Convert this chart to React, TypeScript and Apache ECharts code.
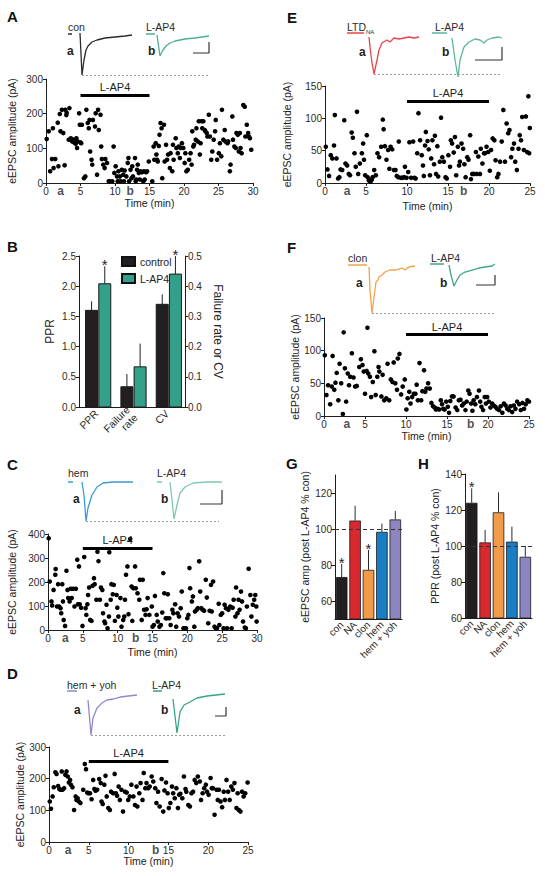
import React, { useEffect, useRef } from 'react';
import * as echarts from 'echarts';

const FONT = 'Liberation Sans, Arial, Helvetica, sans-serif';
const INK = '#1e1e1e';

// ---------- Scatter data: [time (min), eEPSC amplitude (pA)] ----------
const scatterA: number[][] = [
  [0.1,127],[0.4,149],[0.6,34],[0.87,69],[1.0,158],[1.1,43],[1.35,69],[1.7,174],[1.8,48],[2.0,199],[2.1,149],[2.3,211],[2.5,144],[2.7,51],[2.8,211],[2.95,196],[3.0,203],[3.3,125],[3.4,216],[3.6,129],[3.8,120],[4.0,125],[4.1,117],[4.3,113],[4.4,129],[4.5,101],[4.6,120],[4.8,201],[4.9,168],[5.0,117],[5.1,115],[5.2,168],[5.5,14],[5.7,19],[5.85,211],[6.05,173],[6.2,158],[6.3,182],[6.4,91],[6.6,67],[6.7,53],[6.8,182],[7.1,163],[7.2,201],[7.4,24],[7.55,211],[7.65,153],[7.9,197],[8.0,105],[8.1,69],[8.3,53],[8.5,43],[8.6,69],[8.85,58],[9.1,5],[9.2,5],[9.6,5],[9.8,105],[9.9,29],[10.1,48],[10.3,19],[10.4,5],[10.5,34],[10.7,19],[10.8,5],[11.0,38],[11.2,24],[11.3,5],[11.4,36],[11.65,19],[11.85,58],[11.95,72],[12.05,5],[12.25,38],[12.4,14],[12.5,48],[12.6,19],[12.9,72],[13.0,5],[13.1,10],[13.2,38],[13.3,53],[13.45,29],[13.6,10],[13.7,34],[13.9,31],[14.1,5],[14.2,34],[14.3,10],[14.5,31],[14.65,34],[14.9,62],[15.4,5],[15.6,105],[15.7,67],[15.9,115],[16.0,82],[16.1,67],[16.2,62],[16.35,107],[16.45,139],[16.6,173],[16.75,158],[16.85,14],[17.1,168],[17.2,62],[17.4,110],[17.55,67],[17.7,82],[17.95,43],[18.05,86],[18.3,34],[18.4,110],[18.5,67],[18.8,129],[18.9,101],[19.1,86],[19.25,105],[19.4,72],[19.5,101],[19.7,115],[19.9,101],[20.1,58],[20.2,86],[20.35,34],[20.55,38],[20.75,67],[20.95,86],[21.1,53],[21.2,149],[21.35,105],[21.45,110],[21.7,125],[21.8,158],[22.0,120],[22.15,178],[22.3,82],[22.4,115],[22.55,178],[22.65,158],[22.8,178],[23.0,153],[23.1,149],[23.3,144],[23.4,134],[23.6,197],[23.75,134],[23.95,67],[24.1,91],[24.3,125],[24.5,149],[24.6,182],[24.8,67],[25.05,86],[25.2,115],[25.4,77],[25.5,211],[25.7,125],[25.9,153],[26.0,120],[26.3,115],[26.4,120],[26.65,34],[26.75,53],[27.0,192],[27.1,125],[27.3,105],[27.5,101],[27.6,144],[27.8,139],[27.95,91],[28.1,144],[28.2,101],[28.35,86],[28.6,225],[28.8,220],[28.9,134],[29.1,168],[29.3,144],[29.4,134],[29.55,129],[29.75,96]
];

const scatterC: number[][] = [
  [0.1,382],[0.25,202],[0.5,119],[0.6,102],[0.8,167],[1.05,230],[1.1,254],[1.3,98],[1.45,191],[1.6,98],[1.8,91],[1.9,70],[2.05,191],[2.15,119],[2.25,42],[2.45,17],[2.65,247],[2.8,167],[2.9,133],[3.1,119],[3.25,172],[3.4,133],[3.6,172],[3.8,98],[4.0,172],[4.2,293],[4.3,107],[4.45,265],[4.55,107],[4.75,93],[4.95,17],[5.2,304],[5.4,91],[5.5,63],[5.65,107],[5.75,146],[5.9,177],[6.05,42],[6.25,38],[6.4,184],[6.6,216],[6.7,191],[6.95,126],[7.1,326],[7.25,287],[7.45,126],[7.6,177],[7.8,167],[7.9,70],[8.1,35],[8.2,28],[8.4,105],[8.55,7],[8.75,56],[8.8,324],[9.0,126],[9.1,191],[9.3,149],[9.45,188],[9.6,38],[9.85,146],[9.95,93],[10.1,56],[10.4,133],[10.55,14],[10.8,42],[10.95,56],[11.05,126],[11.2,230],[11.4,265],[11.55,66],[11.8,379],[12.0,181],[12.1,38],[12.25,174],[12.5,265],[12.6,174],[12.85,153],[13.1,126],[13.2,209],[13.45,42],[13.6,209],[13.8,84],[14.0,63],[14.15,86],[14.3,133],[14.55,63],[14.9,98],[15.0,14],[15.2,21],[15.35,142],[15.6,63],[15.75,35],[16.0,14],[16.2,21],[16.4,73],[16.55,237],[16.7,153],[16.9,49],[17.05,49],[17.2,149],[17.4,49],[17.6,21],[17.85,84],[18.0,70],[18.25,107],[18.4,14],[18.6,70],[18.8,56],[19.05,91],[19.2,160],[19.45,7],[19.6,7],[19.8,7],[20.0,49],[20.15,63],[20.3,258],[20.4,174],[20.65,119],[20.8,140],[21.0,14],[21.1,77],[21.35,84],[21.5,91],[21.7,286],[21.85,160],[22.0,91],[22.2,84],[22.4,80],[22.65,209],[22.8,135],[23.0,28],[23.2,80],[23.4,188],[23.5,77],[23.7,202],[23.9,14],[24.1,7],[24.25,7],[24.5,109],[24.6,21],[24.8,63],[25.0,70],[25.2,7],[25.35,105],[25.55,91],[25.7,7],[25.9,84],[26.15,98],[26.35,7],[26.5,93],[26.65,126],[26.9,56],[27.0,177],[27.2,70],[27.35,126],[27.5,84],[27.7,160],[27.85,119],[28.0,35],[28.25,10],[28.4,7],[28.55,98],[28.8,255],[29.05,146],[29.2,56],[29.4,105],[29.6,126],[29.75,146],[29.9,98],[29.95,35]
];

const scatterD: number[][] = [
  [0.1,128],[0.25,105],[0.45,144],[0.6,173],[0.8,220],[0.95,215],[1.15,177],[1.3,167],[1.45,165],[1.6,223],[1.7,165],[1.9,170],[2.05,212],[2.2,223],[2.35,207],[2.5,188],[2.65,196],[2.75,181],[2.95,173],[3.15,101],[3.35,144],[3.45,133],[3.6,138],[3.75,128],[3.95,123],[4.3,165],[4.5,246],[4.65,230],[4.8,156],[4.95,154],[5.15,154],[5.35,135],[5.55,196],[5.7,167],[5.85,162],[6.05,165],[6.3,199],[6.5,186],[6.6,128],[6.75,120],[6.95,181],[7.1,209],[7.25,144],[7.45,107],[7.65,101],[7.8,159],[8.05,154],[8.25,215],[8.4,154],[8.55,146],[8.75,175],[8.9,133],[9.1,165],[9.3,96],[9.55,159],[9.75,156],[9.95,133],[10.15,144],[10.35,181],[10.6,144],[10.8,117],[11.0,175],[11.1,112],[11.35,154],[11.5,186],[11.75,133],[11.9,218],[12.1,170],[12.25,186],[12.45,170],[12.65,175],[12.9,207],[13.1,191],[13.35,170],[13.5,123],[13.7,159],[13.9,112],[14.15,199],[14.35,96],[14.5,163],[14.7,188],[14.9,154],[15.05,107],[15.25,123],[15.45,175],[15.6,154],[15.8,138],[16.0,170],[16.2,107],[16.35,149],[16.5,152],[16.75,138],[16.95,207],[17.15,167],[17.25,159],[17.5,117],[17.7,112],[17.9,154],[18.1,159],[18.3,196],[18.5,186],[18.7,207],[18.95,191],[19.1,133],[19.3,154],[19.5,170],[19.7,181],[19.85,159],[20.05,149],[20.3,202],[20.45,170],[20.6,170],[20.8,86],[21.05,165],[21.2,133],[21.35,165],[21.55,128],[21.75,110],[21.95,159],[22.1,133],[22.3,196],[22.5,159],[22.7,133],[22.9,175],[23.1,165],[23.3,186],[23.55,107],[23.7,154],[23.85,101],[24.05,96],[24.25,159],[24.45,144],[24.65,154],[24.95,188]
];

const scatterE: number[][] = [
  [0.1,56],[0.3,21],[0.5,11],[0.7,43],[0.9,38],[1.1,58],[1.2,105],[1.4,38],[1.6,7],[1.75,9],[1.9,21],[2.1,20],[2.35,97],[2.5,30],[2.7,27],[2.9,14],[3.05,12],[3.25,78],[3.4,70],[3.6,46],[3.75,25],[3.9,110],[4.05,14],[4.25,30],[4.5,46],[4.65,61],[4.75,36],[4.9,12],[5.1,74],[5.2,9],[5.35,4],[5.55,2],[5.7,5],[5.8,9],[6.0,20],[6.2,12],[6.4,46],[6.6,40],[6.85,56],[7.05,98],[7.15,83],[7.3,57],[7.5,36],[7.7,51],[7.85,22],[8.0,56],[8.2,52],[8.4,20],[8.6,20],[8.75,11],[8.95,9],[9.0,64],[9.25,8],[9.45,8],[9.65,9],[9.75,25],[9.95,8],[10.15,17],[10.3,63],[10.5,8],[10.75,64],[10.9,8],[11.05,7],[11.25,46],[11.4,108],[11.6,66],[11.8,43],[11.95,27],[12.05,11],[12.2,58],[12.3,79],[12.5,65],[12.65,52],[12.8,12],[12.95,38],[13.1,66],[13.3,29],[13.4,73],[13.55,14],[13.7,57],[13.8,10],[14.0,33],[14.15,101],[14.3,40],[14.5,33],[14.7,9],[14.85,7],[15.05,43],[15.25,25],[15.35,66],[15.5,61],[15.7,47],[15.85,71],[16.0,12],[16.2,56],[16.35,27],[16.45,33],[16.65,61],[16.85,53],[17.0,29],[17.15,9],[17.35,40],[17.5,36],[17.7,74],[17.8,6],[17.95,14],[18.15,14],[18.4,48],[18.5,14],[18.7,41],[18.9,14],[19.0,53],[19.2,30],[19.4,46],[19.5,46],[19.7,56],[19.9,48],[20.1,19],[20.25,51],[20.45,69],[20.65,66],[20.8,35],[21.0,9],[21.15,14],[21.35,33],[21.55,64],[21.75,113],[21.95,33],[22.15,92],[22.35,77],[22.5,82],[22.7,40],[22.85,53],[23.05,61],[23.2,33],[23.4,20],[23.6,53],[23.75,74],[23.9,66],[24.05,102],[24.25,51],[24.5,103],[24.65,48],[24.8,134],[24.9,46],[24.98,85]
];

const scatterF: number[][] = [
  [0.1,93],[0.3,32],[0.5,47],[0.75,18],[0.95,45],[1.05,92],[1.25,40],[1.4,51],[1.55,66],[1.75,24],[1.9,80],[2.1,50],[2.3,3],[2.4,128],[2.55,73],[2.7,22],[2.9,65],[3.05,47],[3.2,60],[3.4,96],[3.6,59],[3.8,45],[4.0,46],[4.3,75],[4.5,87],[4.7,78],[4.85,68],[5.0,34],[5.2,69],[5.3,135],[5.4,65],[5.6,60],[5.75,29],[5.95,52],[6.15,99],[6.3,32],[6.5,60],[6.65,75],[6.75,68],[7.0,30],[7.15,63],[7.35,24],[7.6,27],[7.75,80],[7.95,24],[8.15,56],[8.35,52],[8.5,82],[8.7,50],[8.9,40],[9.0,88],[9.2,95],[9.4,33],[9.6,45],[9.85,56],[10.05,10],[10.2,27],[10.4,37],[10.55,19],[10.75,29],[10.95,34],[11.15,34],[11.3,48],[11.45,24],[11.65,81],[11.85,24],[12.0,38],[12.2,70],[12.35,37],[12.5,42],[12.7,50],[12.9,42],[13.1,20],[13.3,15],[13.5,13],[13.65,10],[13.85,11],[14.05,10],[14.25,24],[14.4,18],[14.55,11],[14.7,10],[14.9,22],[15.1,14],[15.25,5],[15.4,23],[15.6,30],[15.8,30],[16.05,13],[16.25,9],[16.45,24],[16.65,25],[16.85,16],[17.05,19],[17.25,9],[17.4,22],[17.6,39],[17.75,34],[17.95,19],[18.1,8],[18.25,24],[18.45,18],[18.65,29],[18.9,39],[19.05,22],[19.2,14],[19.4,9],[19.6,29],[19.75,19],[19.9,29],[20.1,22],[20.3,13],[20.5,19],[20.7,16],[20.9,14],[21.1,11],[21.35,9],[21.55,15],[21.75,5],[21.95,19],[22.15,16],[22.35,11],[22.55,9],[22.75,15],[22.95,6],[23.15,16],[23.35,11],[23.55,22],[23.8,18],[24.0,9],[24.2,20],[24.4,11],[24.6,18],[24.8,24],[25.0,22]
];

// ---------- Example traces: [time (arb.), current (arb., negative = inward)] ----------
const trA_aBase = [[8,-9],[12,-9]];
const trA_a = [[20,-8],[22,-50],[24,-35],[26,-25],[28,-21],[32,-17],[37,-15],[45,-13],[55,-12],[65,-11],[72,-10]];
const trA_bBase = [[86,-9],[95,-9]];
const trA_b = [[97,-10],[100,-31],[103,-25],[106,-21],[110,-18],[115,-16],[125,-14],[135,-13],[149,-11]];
const trA_scale = [[133,-28],[149,-28],[149,-17]];

const trC_aBase = [[8,-4],[13,-4]];
const trC_a = [[22,-4],[24,-17],[25,-30],[26,-43],[28,-30],[32,-17],[37,-9],[43,-5],[53,-4],[73,-4]];
const trC_bBase = [[97,-4],[102,-4]];
const trC_b = [[110,-4],[112,-22],[114,-41],[117,-27],[120,-15],[125,-9],[133,-5],[147,-4],[162,-4]];
const trC_scale = [[140,-26],[162,-26],[162,-12]];

const trD_aBase = [[7,-1],[17,-1]];
const trD_a = [[28,-10],[31,-45],[33,-28],[37,-18],[42,-13],[47,-10],[53,-9],[60,-7],[77,-5]];
const trD_bBase = [[93,-1],[102,-1]];
const trD_b = [[113,-9],[117,-43],[120,-22],[124,-15],[130,-12],[137,-8],[147,-6],[165,-4]];
const trD_scale = [[155,-26],[166,-26],[166,-17]];

const trE_aBase = [[7,-3],[24,-3]];
const trE_a = [[29,-7],[30,-17],[32,-33],[34,-44],[37,-30],[39,-20],[42,-13],[47,-10],[50,-12],[54,-8],[59,-9],[64,-8],[69,-7],[74,-8],[79,-7]];
const trE_bBase = [[92,-3],[107,-3]];
const trE_b = [[112,-8],[115,-30],[118,-47],[120,-30],[124,-17],[129,-12],[135,-9],[140,-10],[144,-13],[147,-10],[152,-8],[159,-7],[162,-8]];
const trE_scale = [[135,-30],[162,-30],[162,-17]];

const trF_aBase = [[8,-5],[27,-5]];
const trF_a = [[29,-7],[30,-30],[32,-53],[34,-37],[36,-22],[38,-20],[39,-17],[42,-15],[45,-12],[50,-10],[55,-10],[62,-8],[65,-10],[69,-7],[75,-6]];
const trF_bBase = [[90,-4],[104,-4]];
const trF_b = [[109,-5],[111,-15],[114,-26],[117,-20],[120,-15],[125,-12],[132,-10],[139,-8],[145,-7],[152,-6],[155,-4]];
const trF_scale = [[136,-25],[155,-25],[155,-15]];

// ---------- Panel B ----------
const bCategories = ['PPR', 'Failure\nrate', 'CV'];
const bControlMean = [1.6, 0.067, 0.34];
const bControlErr = [1.75, 0.109, 0.373];
const bLap4Mean = [2.04, 0.133, 0.44];
const bLap4Err = [2.33, 0.21, 0.5];
const bLap4Sig = [1, 0, 1];

// ---------- Panels G, H ----------
const ghCategories = ['con', 'NA', 'clon', 'hem', 'hem + yoh'];
const ghColors = ['#231f20', '#d8292e', '#f19a49', '#1a7ec4', '#8c85c0'];
const gMean = [73.3, 104.7, 77.3, 98.4, 105.3];
const gErr = [80.6, 112.9, 88.4, 103, 110];
const gSig = [1, 0, 1, 0, 0];
const hMean = [124, 102, 118.7, 102.4, 94];
const hErr = [132, 108.9, 129.8, 110.7, 100];
const hSig = [1, 0, 0, 0, 0];

const TEAL = '#35a089';

function buildOption() {
  const grid: any[] = [];
  const xAxis: any[] = [];
  const yAxis: any[] = [];
  const series: any[] = [];
  const graphic: any[] = [];

  const axisLine = { show: true, lineStyle: { color: INK, width: 1 } };
  const axisTick = { show: true, length: 3, lineStyle: { color: INK, width: 1 } };
  const axisLabel = { fontSize: 10, color: '#2a2a2a', margin: 3, fontFamily: FONT };
  const nameStyle = { fontSize: 10.5, color: '#222', fontFamily: FONT };

  const addGrid = (left: number, top: number, width: number, height: number) => {
    grid.push({ left, top, width, height, containLabel: false });
    return grid.length - 1;
  };

  const text = (t: string, left: number, top: number, size: number, bold = false, fill = '#2a2a2a') => {
    graphic.push({
      type: 'text', left, top, silent: true,
      style: { text: t, fontSize: size, fontWeight: bold ? 'bold' : 'normal', fontFamily: FONT, fill },
    });
  };

  const scatterPanel = (c: any) => {
    const g = addGrid(c.left, c.top, c.width, c.height);
    xAxis.push({
      gridIndex: g, type: 'value', min: 0, max: c.xMax, interval: 5,
      name: 'Time (min)', nameLocation: 'middle', nameGap: c.xGap, nameTextStyle: nameStyle,
      axisLine, axisTick, axisLabel, splitLine: { show: false },
    });
    const xi = xAxis.length - 1;
    yAxis.push({
      gridIndex: g, type: 'value', min: 0, max: c.yMax, interval: c.yInt,
      name: 'eEPSC amplitude (pA)', nameLocation: 'middle', nameGap: c.yGap, nameTextStyle: nameStyle,
      axisLine, axisTick, axisLabel, splitLine: { show: false },
    });
    const yi = yAxis.length - 1;
    series.push({
      type: 'scatter', xAxisIndex: xi, yAxisIndex: yi, data: c.data, symbolSize: 4.6,
      itemStyle: { color: '#000', opacity: 1 }, silent: true,
      markLine: {
        silent: true, symbol: ['none', 'none'], animation: false,
        lineStyle: { color: '#000', width: 3, type: 'solid' },
        label: { show: true, position: 'insideMiddleTop', formatter: 'L-AP4', fontSize: 11, color: '#222', fontFamily: FONT, distance: 2 },
        data: [[{ coord: [c.bar[0], c.barY] }, { coord: [c.bar[1], c.barY] }]],
      },
    });
    series.push({
      type: 'scatter', xAxisIndex: xi, yAxisIndex: yi, symbolSize: 0, clip: false, silent: true,
      data: [[c.marks[0], 0, 'a'], [c.marks[1], 0, 'b']],
      label: {
        show: true, position: 'bottom', distance: 2, formatter: (p: any) => p.value[2],
        fontWeight: 'bold', fontSize: 12, color: '#222', fontFamily: FONT,
      },
    });
  };

  const tracePanel = (c: any) => {
    const g = addGrid(c.left, c.top, c.width, c.height);
    xAxis.push({ gridIndex: g, type: 'value', min: 0, max: c.width, show: false, splitLine: { show: false } });
    const xi = xAxis.length - 1;
    yAxis.push({ gridIndex: g, type: 'value', min: -c.height, max: 0, show: false, splitLine: { show: false } });
    const yi = yAxis.length - 1;
    const line = (data: number[][], color: string, w = 1.3, extra: any = {}) =>
      series.push({
        type: 'line', xAxisIndex: xi, yAxisIndex: yi, data, symbol: 'none', silent: true,
        lineStyle: { color, width: w }, clip: false, ...extra,
      });
    line(c.aBase, c.aColor);
    line(c.a, c.aColor);
    line(c.bBase, c.bColor);
    line(c.b, c.bColor);
    line(c.scale, '#333', 1.2, {
      markLine: {
        silent: true, symbol: ['none', 'none'], animation: false, label: { show: false },
        lineStyle: { color: '#9a9a9a', width: 1, type: [2, 2] },
        data: [[{ coord: [c.dot[0], c.dotY] }, { coord: [c.dot[1], c.dotY] }]],
      },
    });
  };

  // ---------------- Panel A ----------------
  text('A', 7, 9, 15, true, '#111');
  tracePanel({
    left: 60, top: 25, width: 160, height: 60,
    aBase: trA_aBase, a: trA_a, bBase: trA_bBase, b: trA_b, scale: trA_scale,
    aColor: '#2b2b2b', bColor: '#4fae95', dot: [22, 150], dotY: -50,
  });
  text('con', 68, 21, 10.5);
  text('L-AP4', 146, 21, 10.5);
  text('a', 67, 45, 12, true, '#222');
  text('b', 148, 45, 12, true, '#222');
  scatterPanel({
    left: 46, top: 79, width: 207, height: 104, xMax: 30, yMax: 300, yInt: 100,
    data: scatterA, barY: 254, bar: [5, 15], marks: [2.1, 12.2], xGap: 14, yGap: 29,
  });

  // ---------------- Panel B ----------------
  text('B', 7, 239, 15, true, '#111');
  const gb = addGrid(79, 256, 106, 151);
  xAxis.push({
    gridIndex: gb, type: 'category', data: bCategories,
    axisLine, axisTick: { show: false },
    axisLabel: { fontSize: 10.5, color: '#2a2a2a', fontFamily: FONT, rotate: 45, interval: 0, margin: 5 },
  });
  const bx = xAxis.length - 1;
  yAxis.push({
    gridIndex: gb, type: 'value', min: 0, max: 2.5, interval: 0.5, position: 'left',
    name: 'PPR', nameLocation: 'middle', nameGap: 23, nameTextStyle: { ...nameStyle, fontSize: 12 },
    axisLine, axisTick, axisLabel: { ...axisLabel, formatter: (v: number) => v.toFixed(1) }, splitLine: { show: false },
  });
  const byL = yAxis.length - 1;
  yAxis.push({
    gridIndex: gb, type: 'value', min: 0, max: 0.5, interval: 0.1, position: 'right',
    name: 'Failure rate or CV', nameLocation: 'middle', nameGap: 27, nameRotate: -90,
    nameTextStyle: { ...nameStyle, fontSize: 12 },
    axisLine, axisTick, axisLabel: { ...axisLabel, formatter: (v: number) => v.toFixed(1) }, splitLine: { show: false },
  });
  const byR = yAxis.length - 1;
  const bRender = (params: any, api: any) => {
    const i = api.value(0);
    const base = api.coord([i, 0]);
    const bw = 12;
    const gap = 1.2;
    const parts: any[] = [];
    const items = [
      { mean: api.value(1), err: api.value(2), sig: 0, color: '#231f20', side: -1 },
      { mean: api.value(3), err: api.value(4), sig: api.value(5), color: TEAL, side: 1 },
    ];
    items.forEach((it) => {
      const x = base[0] + 1.5 + it.side * (bw + gap) / 2;
      const yTop = api.coord([i, it.mean])[1];
      const yErr = api.coord([i, it.err])[1];
      parts.push({ type: 'line', shape: { x1: x, y1: yTop, x2: x, y2: yErr }, style: { stroke: '#222', lineWidth: 1 } });
      parts.push({ type: 'rect', shape: { x: x - bw / 2, y: yTop, width: bw, height: base[1] - yTop }, style: { fill: it.color, stroke: '#1a1a1a', lineWidth: 1 } });
      if (it.sig) {
        parts.push({ type: 'text', x, y: yErr + 6, style: { text: '*', textAlign: 'center', textVerticalAlign: 'bottom', fontSize: 15, fontFamily: FONT, fill: '#222' } });
      }
    });
    return { type: 'group', children: parts };
  };
  const bRows = bCategories.map((_, i) => [i, bControlMean[i], bControlErr[i], bLap4Mean[i], bLap4Err[i], bLap4Sig[i]]);
  series.push({ type: 'custom', xAxisIndex: bx, yAxisIndex: byL, renderItem: bRender, data: [bRows[0]], clip: false, silent: true });
  series.push({ type: 'custom', xAxisIndex: bx, yAxisIndex: byR, renderItem: bRender, data: [bRows[1], bRows[2]], clip: false, silent: true });
  series.push({ type: 'bar', name: 'control', xAxisIndex: bx, yAxisIndex: byL, data: [], itemStyle: { color: '#231f20', borderColor: '#111', borderWidth: 1 } });
  series.push({ type: 'bar', name: 'L-AP4', xAxisIndex: bx, yAxisIndex: byL, data: [], itemStyle: { color: TEAL, borderColor: '#111', borderWidth: 1 } });

  // ---------------- Panel C ----------------
  text('C', 7, 457, 15, true, '#111');
  tracePanel({
    left: 60, top: 478, width: 170, height: 50,
    aBase: trC_aBase, a: trC_a, bBase: trC_bBase, b: trC_b, scale: trC_scale,
    aColor: '#3a9ad8', bColor: '#7ec6b6', dot: [26, 159], dotY: -43,
  });
  text('hem', 68, 467, 10.5);
  text('L-AP4', 157, 467, 10.5);
  text('a', 73, 493, 12, true, '#222');
  text('b', 161, 493, 12, true, '#222');
  scatterPanel({
    left: 48, top: 534, width: 209, height: 96, xMax: 30, yMax: 400, yInt: 100,
    data: scatterC, barY: 342, bar: [5, 15], marks: [2.5, 12.6], xGap: 16, yGap: 31,
  });

  // ---------------- Panel D ----------------
  text('D', 7, 666, 15, true, '#111');
  tracePanel({
    left: 60, top: 690, width: 170, height: 50,
    aBase: trD_aBase, a: trD_a, bBase: trD_bBase, b: trD_b, scale: trD_scale,
    aColor: '#8e89c9', bColor: '#36a488', dot: [31, 165], dotY: -45,
  });
  text('hem + yoh', 67, 679, 10.5);
  text('L-AP4', 152, 679, 10.5);
  text('a', 74, 704, 12, true, '#222');
  text('b', 161, 704, 12, true, '#222');
  scatterPanel({
    left: 49, top: 747, width: 199, height: 95, xMax: 25, yMax: 300, yInt: 100,
    data: scatterD, barY: 256, bar: [5, 15], marks: [2.4, 13.4], xGap: 12, yGap: 24,
  });

  // ---------------- Panel E ----------------
  text('E', 287, 10, 15, true, '#111');
  tracePanel({
    left: 340, top: 30, width: 170, height: 50,
    aBase: trE_aBase, a: trE_a, bBase: trE_bBase, b: trE_b, scale: trE_scale,
    aColor: '#e8424b', bColor: '#5db59f', dot: [34, 162], dotY: -44,
  });
  text('LTD', 347, 21, 10.5);
  text('NA', 366, 29, 6);
  text('L-AP4', 435, 21, 10.5);
  text('a', 359, 46, 12, true, '#222');
  text('b', 442, 46, 12, true, '#222');
  scatterPanel({
    left: 325, top: 86, width: 205, height: 97, xMax: 25, yMax: 150, yInt: 50,
    data: scatterE, barY: 127, bar: [10, 20], marks: [2.7, 16.9], xGap: 17, yGap: 33,
  });

  // ---------------- Panel F ----------------
  text('F', 287, 240, 15, true, '#111');
  tracePanel({
    left: 340, top: 260, width: 170, height: 60,
    aBase: trF_aBase, a: trF_a, bBase: trF_bBase, b: trF_b, scale: trF_scale,
    aColor: '#f2a24e', bColor: '#3fa58b', dot: [32, 155], dotY: -53,
  });
  text('clon', 348, 252, 10.5);
  text('L-AP4', 431, 252, 10.5);
  text('a', 356, 277, 12, true, '#222');
  text('b', 440, 277, 12, true, '#222');
  scatterPanel({
    left: 324, top: 318, width: 205, height: 98, xMax: 25, yMax: 150, yInt: 50,
    data: scatterF, barY: 125, bar: [10, 20], marks: [2.8, 17.9], xGap: 14, yGap: 22,
  });

  // ---------------- Panels G & H ----------------
  const barPanel = (c: any) => {
    const g = addGrid(c.left, c.top, c.width, c.height);
    xAxis.push({
      gridIndex: g, type: 'category', data: ghCategories,
      axisLine, axisTick: { show: false },
      axisLabel: { ...axisLabel, fontSize: 10, rotate: 45, interval: 0, margin: 4 },
    });
    const xi = xAxis.length - 1;
    yAxis.push({
      gridIndex: g, type: 'value', min: c.min, max: c.max, ...(c.interval ? { interval: c.interval } : {}),
      name: c.name, nameLocation: 'middle', nameGap: c.nameGap, nameTextStyle: nameStyle,
      axisLine, axisTick: { ...axisTick, length: 4, ...(c.ticks ? { customValues: c.ticks } : {}) },
      axisLabel: { ...axisLabel, ...(c.ticks ? { customValues: c.ticks } : {}) },
      splitLine: { show: false },
    });
    const yi = yAxis.length - 1;
    series.push({
      type: 'line', xAxisIndex: xi, yAxisIndex: yi, data: [], z: 1, silent: true,
      markLine: {
        silent: true, symbol: ['none', 'none'], animation: false, label: { show: false },
        lineStyle: { color: '#333', width: 1, type: [4, 3] },
        data: [{ yAxis: 100 }],
      },
    });
    series.push({
      type: 'bar', xAxisIndex: xi, yAxisIndex: yi, z: 2, silent: true, barCategoryGap: '14%',
      data: c.mean.map((v: number, i: number) => ({ value: v, itemStyle: { color: ghColors[i] } })),
      itemStyle: { borderColor: '#1a1a1a', borderWidth: 0.8 },
    });
    series.push({
      type: 'custom', xAxisIndex: xi, yAxisIndex: yi, z: 3, silent: true, clip: false,
      data: c.mean.map((v: number, i: number) => [i, v, c.err[i], c.sig[i]]),
      renderItem: (params: any, api: any) => {
        const i = api.value(0);
        const top = api.coord([i, api.value(1)]);
        const e = api.coord([i, api.value(2)]);
        const parts: any[] = [
          { type: 'line', shape: { x1: top[0], y1: top[1], x2: e[0], y2: e[1] }, style: { stroke: '#2a2a2a', lineWidth: 1 } },
        ];
        if (api.value(3)) {
          parts.push({ type: 'text', x: e[0], y: e[1] + 6, style: { text: '*', textAlign: 'center', textVerticalAlign: 'bottom', fontSize: 15, fontFamily: FONT, fill: '#222' } });
        }
        return { type: 'group', children: parts };
      },
    });
  };

  text('G', 286, 456, 15, true, '#111');
  barPanel({
    left: 335, top: 475, width: 67, height: 144, min: 50, max: 130, ticks: [60, 80, 100, 120],
    name: 'eEPSC amp (post L-AP4 % con)', nameGap: 25, mean: gMean, err: gErr, sig: gSig,
  });
  text('H', 418, 456, 15, true, '#111');
  barPanel({
    left: 465, top: 474, width: 67, height: 144, min: 60, max: 140, interval: 20,
    name: 'PPR (post L-AP4 % con)', nameGap: 25, mean: hMean, err: hErr, sig: hSig,
  });

  return {
    animation: false,
    backgroundColor: '#ffffff',
    textStyle: { fontFamily: FONT },
    legend: {
      data: ['control', 'L-AP4'], orient: 'vertical', left: 116, top: 251,
      itemWidth: 13, itemHeight: 9, itemGap: 6, icon: 'rect', selectedMode: false,
      textStyle: { fontSize: 10.5, color: '#222', fontFamily: FONT },
    },
    grid, xAxis, yAxis, series, graphic,
  };
}

export default function App() {
  const ref = useRef<HTMLDivElement>(null);
  useEffect(() => {
    if (!ref.current) return;
    const chart = echarts.init(ref.current, null, { renderer: 'svg', width: 545, height: 876 });
    chart.setOption(buildOption() as any);
    return () => chart.dispose();
  }, []);
  return (
    <div
      ref={ref}
      style={{ position: 'fixed', left: 0, top: 0, width: 545, height: 876, background: '#fff' }}
    />
  );
}
